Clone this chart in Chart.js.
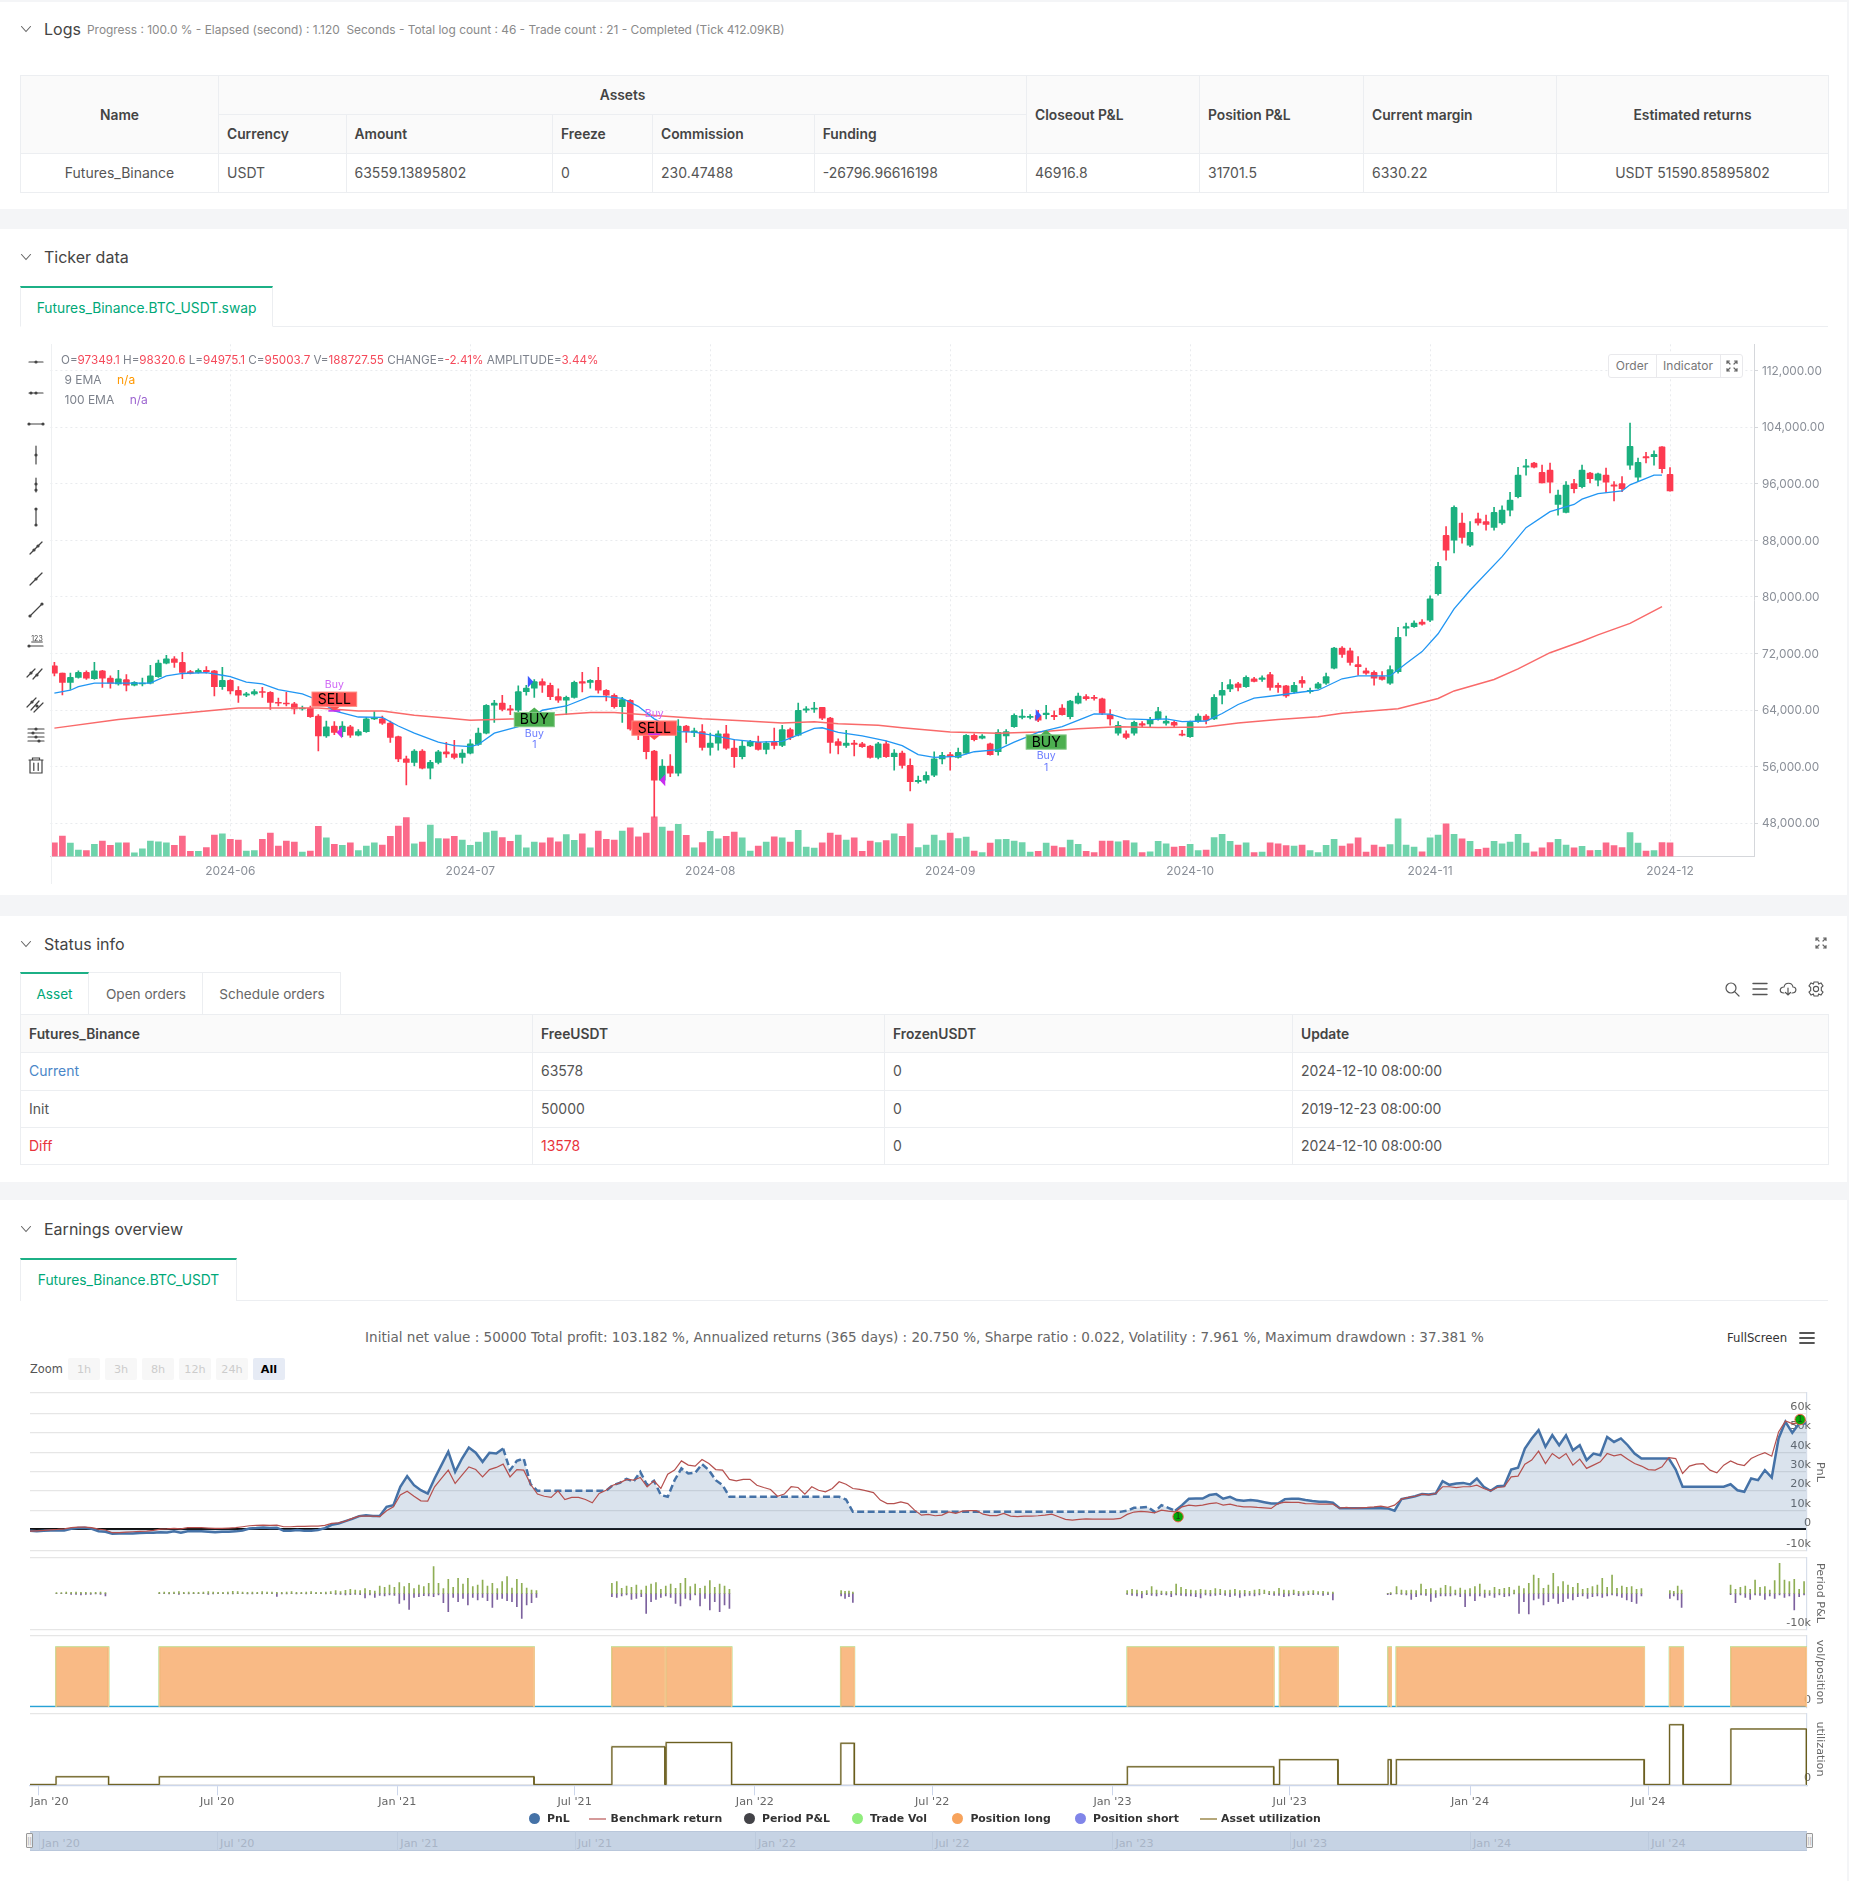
<!DOCTYPE html>
<html><head><meta charset="utf-8">
<script src="https://cdn.jsdelivr.net/npm/chart.js@4"></script>
<style>
html,body{margin:0;padding:0;background:#f4f5f7}
body{width:1849px;height:1881px;position:relative;overflow:hidden;font-family:Inter,"Noto Sans",sans-serif;color:#333}
.panel{position:absolute;left:0;width:1847px;background:#fff}
.t{position:absolute;white-space:pre;line-height:1}
canvas{position:absolute;display:block}
table{position:absolute;border-collapse:collapse;table-layout:fixed;font-size:14px;color:#555}
th,td{border:1px solid #eceef1;padding:0 8px;box-sizing:border-box;text-align:left;font-weight:400;overflow:hidden;white-space:nowrap}
td{padding-bottom:2px}
th{background:#fafafa;font-weight:600;color:#444;font-size:13.8px}
.c{text-align:center}
svg{position:absolute;overflow:visible}
.box{position:absolute;box-sizing:border-box}
</style></head><body>
<div class="panel" style="top:2px;height:207px"></div>
<div class="panel" style="top:229px;height:666px"></div>
<div class="panel" style="top:916px;height:266px"></div>
<div class="panel" style="top:1200px;height:681px"></div>

<table style="left:20px;top:75px;width:1808px">
<colgroup><col style="width:198px"><col style="width:127.5px"><col style="width:206.5px"><col style="width:100px"><col style="width:161.7px"><col style="width:212.3px"><col style="width:173px"><col style="width:164px"><col style="width:193px"><col style="width:272px"></colgroup>
<tr style="height:39px"><th rowspan="2" class="c">Name</th><th colspan="5" class="c">Assets</th><th rowspan="2">Closeout P&amp;L</th><th rowspan="2">Position P&amp;L</th><th rowspan="2">Current margin</th><th rowspan="2" class="c">Estimated returns</th></tr>
<tr style="height:39px"><th>Currency</th><th>Amount</th><th>Freeze</th><th>Commission</th><th>Funding</th></tr>
<tr style="height:39px"><td class="c">Futures_Binance</td><td>USDT</td><td>63559.13895802</td><td>0</td><td>230.47488</td><td>-26796.96616198</td><td>46916.8</td><td>31701.5</td><td>6330.22</td><td class="c">USDT 51590.85895802</td></tr>
</table>

<table style="left:20px;top:1014px;width:1808px">
<colgroup><col style="width:512px"><col style="width:352px"><col style="width:408px"><col style="width:536px"></colgroup>
<tr style="height:38px"><th>Futures_Binance</th><th>FreeUSDT</th><th>FrozenUSDT</th><th>Update</th></tr>
<tr style="height:38px"><td style="color:#4a86c8">Current</td><td>63578</td><td>0</td><td>2024-12-10 08:00:00</td></tr>
<tr style="height:37px"><td>Init</td><td>50000</td><td>0</td><td>2019-12-23 08:00:00</td></tr>
<tr style="height:37px"><td style="color:#e8333c">Diff</td><td style="color:#e8333c">13578</td><td>0</td><td>2024-12-10 08:00:00</td></tr>
</table>

<canvas id="price" width="1778" height="545" style="left:50px;top:340px;width:1778px;height:545px"></canvas>
<canvas id="pane1" width="1790" height="163" style="left:30px;top:1390px;width:1790px;height:163px"></canvas>
<canvas id="pane2" width="1790" height="77" style="left:30px;top:1555px;width:1790px;height:77px"></canvas>
<canvas id="pane3" width="1790" height="77" style="left:30px;top:1633px;width:1790px;height:77px"></canvas>
<canvas id="pane4" width="1820" height="102" style="left:0px;top:1711px;width:1820px;height:102px"></canvas>

<script>
// ---------- candlestick data (daily candles) ----------
const opens=[70250,69230,67920,68630,69340,68430,69540,68530,67720,68330,67520,67720,67820,68730,70650,71260,70750,69440,69340,69640,
69540,67310,68220,66810,66100,66300,66610,66510,65090,64990,64890,64180,64280,63170,60340,61750,60950,61650,60440,60950,
62760,62760,62160,60240,57100,56600,58210,55790,56600,58110,57810,57310,57910,59130,60740,64690,64990,64180,63980,66610,
67110,68020,67520,65900,65390,65800,68020,67920,68220,66810,66100,64480,65390,61350,60740,58210,54070,56090,55080,61750,
60840,60950,58720,59330,60640,58620,57410,58920,59430,58420,59430,59020,61250,60440,63980,64130,64380,62870,59530,59020,
59330,59230,58920,57310,59230,57410,57910,56190,53870,54070,54780,57100,57710,57310,57910,60440,60030,59230,58110,60340,
61650,62970,62970,63270,63370,63270,64280,63070,64990,65900,65800,65600,63370,60740,60640,60740,62110,62060,62760,62160,
62260,60590,60240,62460,63170,62760,66100,67010,67720,67310,68430,68330,69030,67520,67420,66610,68220,66610,67110,67820,
69940,72770,72370,70450,69540,69340,68730,67820,69440,75600,75810,76460,76720,80460,88740,88030,90470,87330,91070,90670,
89860,90470,92290,94210,98350,98960,97640,97950,93090,91980,96030,95620,97540,96530,97240,95870,96030,98660,96940,99870,
99870,101230,97349.1];
const highs=[70750,69230,69230,69540,69540,70750,69640,68830,69640,69030,68020,68530,70350,71060,71760,71560,72170,69640,69840,70150,
69640,70040,68330,67310,66510,66910,67210,66610,65700,66510,65090,64580,64580,63370,62460,62360,62360,61860,61250,62970,
63780,63170,62460,60340,57510,58420,58420,56900,58320,59430,59730,58420,59830,61450,64790,65390,66100,64690,67420,67520,
68330,68430,67820,67010,66000,68120,69340,68330,70040,66910,66300,65800,65490,61550,60950,58320,57000,57710,62660,61860,
61450,61960,60740,61050,61860,59830,59730,59730,60340,59530,61450,61860,61450,64990,64480,65090,64380,62970,59930,61150,
59730,59430,59020,59430,59630,58420,58210,57100,54680,55280,58110,58010,58010,58620,60540,60640,60540,59330,61250,61250,
63470,64080,63370,63980,64690,63880,64790,65390,66400,66200,66100,65700,64080,62360,61050,62460,62360,62970,64380,63170,
62460,61150,62460,63470,63370,66200,67920,68330,67920,68830,68630,68830,69340,67820,67520,67920,68730,67110,67920,69230,
72870,72980,72770,71560,69940,69540,69440,70250,75710,76310,76620,76820,80150,84910,89960,92890,91880,90670,91880,91580,
92690,92890,94810,98350,99460,99060,98660,98960,95120,96330,96630,98660,97640,97540,98250,96330,97040,104620,99670,100470,
100680,101280,98320.6];
const lows=[68830,66150,66910,68530,68330,68330,67210,67110,67520,66710,67420,67420,67720,68630,70550,70040,68430,69130,69230,69230,
66000,66910,66300,65090,65900,66100,65800,64080,64580,64580,63470,63980,62970,58210,60140,60540,60240,60140,60340,60840,
62660,61960,59430,56700,53410,56090,55690,54270,56400,57310,57100,56500,57810,59020,60640,62260,63880,63370,63780,66100,
65800,66510,65490,65090,63370,65700,66560,67110,66400,65290,64280,62260,61150,59830,57100,48860,53920,54580,54680,59430,
60240,58320,57610,58320,58420,55890,57100,58820,58320,57810,58520,58820,59830,60340,63670,63670,62660,57910,57810,58720,
57510,58720,57200,57100,57310,55490,55790,52550,53670,53670,54580,56400,55490,57200,57810,59630,59930,57610,57610,59230,
61550,62760,62760,62360,62760,62660,63270,62760,64890,65390,65390,63370,61860,60440,59930,60440,61650,61650,62560,61860,
61550,60340,60140,62260,62060,62660,64890,66610,66710,67210,67970,68070,66810,66510,65800,66400,67210,66400,67010,67620,
69840,71460,70350,68930,69030,67520,68220,67620,69230,74490,75710,76010,76510,80250,85210,86220,87630,87130,90160,89450,
89450,90260,91480,94000,97240,98250,96130,94710,91580,91880,94710,95420,96130,95720,94810,93600,94910,98050,96330,98960,
98660,97540,94975.1];
const closes=[69230,67920,68630,69340,68530,69540,68530,67820,68430,67520,67920,67820,68830,70650,71260,70750,69340,69230,69640,69440,
67310,68220,66710,66100,66300,66610,66510,65090,64990,64890,64180,64280,63070,60340,61650,60840,61750,60440,60950,62760,
62870,62160,60140,57100,56600,58210,55790,56600,58110,57810,57310,57910,59230,60740,64690,64990,64080,63980,66610,67110,
68020,67520,65900,65390,65800,67920,67820,68220,66810,66100,64480,65490,61350,60740,58110,54070,56090,55080,61750,60950,
61050,58720,59330,60640,58620,57410,58920,59530,58420,59330,59020,61250,60140,63980,64180,64280,62870,59430,59020,59330,
59130,58820,57310,59230,57410,57910,56190,53870,54070,54780,57100,57610,57410,58010,60440,59830,60340,57710,60840,60950,
63270,63170,63120,62560,63570,63070,63370,65290,66000,65600,65650,63570,62760,61860,60140,62260,61860,62660,63780,62460,
61860,60440,62260,63170,62560,65800,66810,67620,67210,68630,68070,68580,67210,67210,66000,67520,67820,66810,67720,68730,
72770,71860,70750,70150,69230,68530,68330,69740,74290,75810,76310,76160,79750,84350,86620,92690,88440,89150,90470,90260,
91980,92290,93700,97240,98550,98350,96130,96230,94410,95820,95320,97950,96730,97440,96230,95670,95320,101330,99060,99670,
100170,98150,95003.7];
const volumes=[190,285,185,90,80,170,215,155,190,190,50,105,215,205,190,155,285,70,70,125,300,315,240,230,75,80,240,325,145,215,200,60,75,420,260,170,155,190,80,145,
190,160,280,425,545,175,200,440,250,245,280,230,155,200,335,355,265,210,300,120,200,190,260,205,305,225,315,120,355,240,230,
355,400,275,325,555,410,355,450,295,120,195,350,245,280,340,260,75,145,200,275,260,200,365,130,115,190,325,300,230,260,70,215,195,220,315,280,455,125,160,300,220,325,250,270,75,55,185,235,240,215,195,60,70,185,145,125,230,170,70,55,215,215,205,220,190,55,65,210,175,130,140,170,80,90,265,310,210,160,
190,55,60,190,175,150,145,160,80,55,155,240,145,175,260,60,160,130,165,525,160,130,65,260,300,455,310,245,210,100,115,210,175,200,310,185,65,120,195,240,160,120,140,80,85,190,150,125,335,185,75,80,195,188.7];
const ema9Idx=[0,2,3,5,8,12,14,16,19,21,22,24,26,28,31,33,35,38,41,43,45,48,50,52,53,55,58,61,64,67,69,71,73,75,78,80,82,85,88,91,93,95,96,98,101,104,106,108,110,113,115,118,120,123,126,129,130,132,134,137,139,141,144,146,148,150,153,156,158,161,163,167,169,171,173,175,177,181,184,187,190,191,193,196,197,200,201];
const ema9Val=[66400,66810,67310,67820,67820,67820,68830,69180,69290,68930,68730,67970,67720,66910,66300,65390,63880,63020,62970,61750,60740,59480,58970,58820,59130,60740,61650,63980,64580,65950,65900,65650,64530,62760,60950,60890,60490,59830,59480,59580,60490,61400,61500,60840,60340,59630,58970,57710,57310,57460,58110,58420,59480,60840,61650,63020,63470,63420,62760,62660,62760,62360,62460,63520,64790,65700,66100,66560,66810,68430,68830,68830,70600,72270,74800,78330,80960,85710,89810,92080,93090,93850,94610,95010,95870,97240,97240];
const ema100Idx=[0,8,18,23,28,33,38,41,45,49,52,58,62,67,70,76,81,86,91,95,98,103,106,112,118,123,128,133,138,144,148,153,158,161,168,173,175,180,183,187,191,193,197,201];
const ema100Val=[61450,62660,63780,64280,64280,64280,63880,63880,63270,62870,62560,62760,63270,63670,63670,63170,62760,62510,62160,62360,62060,61860,61500,60890,60740,60890,61350,61650,61550,61600,62160,62660,63070,63570,64180,65650,66710,68330,69840,72120,73730,74640,76260,78640];
const priceTicks=[48000,56000,64000,72000,80000,88000,96000,104000,112000];
const dateTickIdx=[22,52,82,112,142,172,202];
const dateTickLabels=['2024-06','2024-07','2024-08','2024-09','2024-10','2024-11','2024-12'];
const sellIdx=[35,75], sellPrice=[65540,61450], sellDashPrice=[64000,60700];
const sellArrowIdx=[35.6,76], sellArrowPrice=[60840,54070];
const buyIdx=[60,124], buyPrice=[62660,59480];
const buyArrowIdx=[59.5,123], buyArrowPrice=[68020,63270];

// ---------- earnings overview data (weekly reading, thousands of USDT) ----------
const pnlK=[-0.7,-0.9,-0.7,-0.5,-0.5,-0.5,0.3,0.7,0.9,0.3,-0.9,-1.2,-2.2,-2.1,-2.1,-2.1,-1.9,-1.7,-1.7,-1.4,-1.6,-1.0,-1.7,-1.0,-1.0,-1.0,-1.2,-1.4,-1.2,-1.2,-1.0,-0.5,0.5,0.7,1.0,0.7,0.9,-0.7,-0.7,-0.3,-0.7,-0.7,-0.3,0.7,2.4,3.1,4.3,5.5,6.9,7.4,6.9,6.9,11.7,12.6,22.1,27.6,22.9,20.3,18.6,26.4,33.3,40.2,29.8,36.7,42.4,39.7,35.0,39.7,39.3,41.9,30.7,35.5,36.7,23.4,
20,20,20,20,20,20,20,20,20,20,20,22.9,24.1,26.2,24.7,29.8,22.9,25.2,17.8,16.9,25.5,31.6,29.0,29.3,33.8,30.7,25.5,22.9,
16.9,16.9,16.9,16.9,16.9,16.9,16.9,16.9,16.9,16.9,16.9,16.9,16.9,16.9,16.9,16.9,16.9,15.5,
9.1,9.1,9.1,9.1,9.1,9.1,9.1,9.1,9.1,9.1,9.1,9.1,9.1,9.1,9.1,9.1,9.1,9.1,9.1,9.1,9.1,9.1,9.1,9.1,9.1,9.1,9.1,9.1,9.1,9.1,9.1,9.1,9.1,9.1,9.1,9.1,9.1,9.1,9.1,9.1,
9.7,11.2,11.4,11.7,9.1,12.6,11.2,9.7,12.6,15.9,16.0,16.0,17.8,18.3,15.9,16.9,15.2,14.8,15.2,14.8,14.1,13.4,13.4,15.7,15.9,15.9,15.2,14.7,14.3,14.3,13.8,11.0,11.0,11.0,11.0,11.0,11.0,11.0,10.9,9.7,15.7,16.4,17.2,18.3,18.1,18.6,25.0,23.1,23.8,24.1,23.3,26.4,22.1,20.0,22.4,22.6,31.0,31.9,41.9,
47.1,51.4,42.8,48.8,43.6,48.8,41.0,43.6,35.9,39.3,38.4,47.9,45.3,47.1,43.6,39.3,36.7,36.7,36.7,36.7,36.7,31.0,22.1,22.1,22.1,22.1,22.1,22.1,22.1,23.4,20.3,19.5,26.4,25.5,30.7,26.9,47.1,55.7,50.0,54.8,54.8];
const benchK=[-0.9,-0.7,-0.5,-0.2,0,0.3,0.9,1.2,1.2,0.9,0.2,-0.3,-1.7,-1.6,-1.4,-1.2,-1.0,-0.9,-0.5,0.2,0.3,0.5,0.3,0.9,0.9,0.9,0.7,0.5,0.5,0.7,0.9,1.4,1.9,2.1,2.2,2.1,2.2,1.4,1.4,1.6,1.6,1.7,1.7,2.1,3.1,3.4,4.3,5.7,6.9,6.9,6.9,6.6,9.7,11.7,17.8,19.8,17.2,14.8,14.7,22.1,26.4,30.7,23.8,28.1,32.4,31.0,27.2,31.0,32.1,33.8,27.2,31.0,30.7,
23.4,18.3,17.2,16.6,20.0,15.5,16.6,16.6,15.5,13.8,18.6,20.3,22.9,24.1,25.9,25.5,26.9,22.1,25.2,21.2,28.6,30.7,35.5,33.3,32.8,36.2,34.1,31.0,30.7,25.9,25.2,25.9,25.9,22.9,21.7,20.7,17.2,18.3,22.1,21.7,18.3,22.1,20.3,19.5,21.2,24.7,23.4,21.2,20.7,20.0,19.1,15.2,13.4,13.4,14.3,13.4,10.0,7.4,7.8,7.1,7.4,9.1,8.3,9.5,9.7,9.7,7.9,7.2,7.2,8.3,6.9,6.6,6.9,
6.9,7.1,7.4,7.9,6.6,5.2,4.8,5.2,5.5,5.3,5.3,5.3,5.3,5.7,7.8,9.0,9.3,9.1,8.6,10.0,9.5,9.1,11.7,12.6,12.2,12.6,13.4,13.8,12.6,13.1,12.2,11.7,11.7,11.4,11.2,10.9,13.4,14.1,14.0,14.0,13.4,13.3,13.1,13.1,13.1,11.0,11.4,10.9,11.2,11.4,11.7,12.1,11.4,12.6,15.7,16.6,17.2,18.3,17.9,18.6,22.1,22.1,21.7,22.1,22.1,22.9,21.2,20.0,21.7,22.1,27.2,27.6,33.8,
35.9,40.5,34.1,39.3,36.7,39.3,33.3,36.4,31.6,33.3,35.0,39.3,38.1,38.8,36.4,34.1,32.8,31.0,30.7,32.4,37.2,36.7,29.0,32.8,33.8,34.1,30.7,29.3,33.3,35.5,33.8,33.1,36.7,38.4,39.7,37.9,50.5,56.2,54.8,55.2,56.6];
const weekStep=7;
const dashedFrom=477, dashedTo=1174;
const tradeMarkDays=[1172,1807], tradeMarkK=[6.6,56.9];
const pnlTicks=[-10.8,0,10,20,30,40,50,60,71];
const pnlTickLabels=['-10k','0','10k','20k','30k','40k','50k','60k',''];
// period P&L, one run per holding block: first day, step in days, gains and losses (about 100 USDT per unit)
const periodStart=[27,132,594,828,1120,1386,1395,1674,1736];
const periodStep=[5,5,5,4,5,3,5,4,5];
const periodGain=[
[2,2,4,3,4,3,3,2,3,4,2],
[3,4,3,4,5,3,4,3,3,4,5,4,3,3,4,6,5,4,3,4,3,5,4,4,3,3,4,5,3,3,4,5,3,3,4,5,8,5,9,12,10,8,14,9,7,22,18,25,18,32,20,30,14,25,20,30,80,30,14,42,18,45,28,45,20,25,40,22,30,14,35,50,16,42,30,16,10,8],
[30,35,15,22,18,25,10,22,28,32,12,22,28,15,30,45,20,28,15,22,38,18,28,22,12],
[8,6,7,4],
[8,12,10,6,8,20,10,7,5,6,28,18,12,10,8,12,10,9,14,12,8,10,12,8,9,6,10,12,10,6,5,15,10,8,10,6,5,7,8,5,6,4,4],
[0,2],
[20,10,8,10,8,28,12,14,8,16,24,20,10,16,10,14,20,28,10,8,18,12,15,18,10,22,14,30,55,45,15,25,60,20,35,25,18,30,12,15,20,25,45,18,55,15,22,18,20,12,14],
[8,6,22,10],
[25,12,18,22,12,40,18,20,10,38,90,40,35,42,12,35]];
const periodLoss=[
[1,1,1,3,3,5,3,3,2,3,8],
[1,1,2,1,3,1,2,1,1,1,3,2,1,1,2,2,1,1,2,2,1,2,1,1,9,2,2,1,2,1,2,1,1,1,2,1,3,3,5,4,3,4,14,5,12,6,8,5,6,30,20,48,12,10,7,8,10,5,28,55,12,25,15,35,12,20,12,22,42,18,15,22,25,40,75,35,28,12],
[10,12,8,5,18,15,10,60,25,18,12,8,12,30,38,15,20,5,38,15,50,25,55,35,45],
[8,15,10,27],
[3,6,8,14,4,6,8,4,5,10,5,6,8,8,10,14,5,8,6,4,6,10,6,12,8,6,8,5,0,4,6,6,10,8,4,7,6,4,4,3,6,4,20],
[4,4],
[2,3,5,18,10,5,6,24,12,8,8,8,5,10,40,8,22,8,12,6,12,5,10,8,2,60,25,62,20,15,35,25,15,30,25,15,20,10,8,15,10,8,12,8,5,8,12,20,25,30,8],
[15,8,20,42],
[4,28,5,12,18,5,6,18,8,15,5,12,8,50,10,5]];
const blockStart=[26.6,132,594,649.4,827.7,1120.2,1275.6,1386.4,1394.8,1673.7,1736.3];
const blockEnd=[80.2,514.5,648.2,716.2,841.5,1269.6,1335.2,1389.4,1647.8,1687.6,1813.4];
const blockUtil=[0.11,0.11,0.53,0.59,0.58,0.25,0.35,0.35,0.35,0.84,0.78];
const axisDays=[9,191,375,556,740,921,1105,1286,1470,1652];
const axisLabels=["Jan '20","Jul '20","Jan '21","Jul '21","Jan '22","Jul '22","Jan '23","Jul '23","Jan '24","Jul '24"];
const totalDays=1814;

// ---------- page text helpers ----------
function T(x,y,s,css,center){const e=document.createElement('div');e.className='t';e.textContent=s;
 e.style.cssText=`left:${x}px;top:${y}px;transform:translate(${center?'-50%':'0'},-50%);`+(css||'');document.body.appendChild(e);return e}
function B(x,y,w,h,css){const e=document.createElement('div');e.className='box';e.style.cssText=`left:${x}px;top:${y}px;width:${w}px;height:${h}px;`+(css||'');document.body.appendChild(e);return e}
function S(x,y,body,stroke,w){const n='http://www.w3.org/2000/svg';const s=document.createElementNS(n,'svg');s.setAttribute('width','2');s.setAttribute('height','2');s.style.left=x+'px';s.style.top=y+'px';
 s.innerHTML=`<g fill="none" stroke="${stroke||'#444'}" stroke-width="${w||1.2}" stroke-linecap="round">${body}</g>`;document.body.appendChild(s)}
const chev=y=>S(26,y,'<path d="M-4.5 -2.5L0 2.5L4.5 -2.5"/>','#666',1.1);
[[30,'Logs'],[258,'Ticker data'],[945,'Status info'],[1230,'Earnings overview']].forEach(([y,s])=>{chev(y-1);T(44,y-1,s,'font-size:16px;color:#444')});
T(87,30,'Progress : 100.0 % - Elapsed (second) : 1.120  Seconds - Total log count : 46 - Trade count : 21 - Completed (Tick 412.09KB)','font-size:11.92px;color:#8a8a8a');
// ticker tab
B(20,286,253,41,'border-top:2px solid #1cb086;border-left:1px solid #eceef1;border-right:1px solid #eceef1;border-bottom:1px solid #fff');
B(273,326,1555,1,'background:#eceef1');
T(146.5,309,'Futures_Binance.BTC_USDT.swap','font-size:13.8px;color:#00a878',true);
// price legend
const hdr=[['O=','97349.1'],['H=','98320.6'],['L=','94975.1'],['C=','95003.7'],['V=','188727.55'],['CHANGE=','-2.41%'],['AMPLITUDE=','3.44%']];
const hl=T(61,361,'','font-size:11.65px;color:#7d828c');hdr.forEach(([a,b],i)=>{hl.append(a);const s=document.createElement('span');s.style.color='#f5495a';s.textContent=b;hl.append(s);if(i<hdr.length-1)hl.append(' ')});
T(64.5,380,'9 EMA','font-size:12px;color:#7d828c');T(117,380,'n/a','font-size:12px;color:#ff9800');
T(64.5,400,'100 EMA','font-size:12px;color:#7d828c');T(129.7,400,'n/a','font-size:12px;color:#9c64d0');
B(1608,354,135,24,'border:1px solid #e9e9ec;border-radius:3px;background:#fff');B(1655.5,354,1,24,'background:#e9e9ec');B(1720,354,1,24,'background:#e9e9ec');
T(1632,366,'Order','font-size:12px;color:#777',true);T(1688,366,'Indicator','font-size:12px;color:#777',true);
const fsIcon=(x,y)=>S(x,y,'<path d="M-5 -5L-2 -2M5 -5L2 -2M-5 5L-2 2M5 5L2 2M-5 -5h2.5M-5 -5v2.5M5 -5h-2.5M5 -5v2.5M-5 5h2.5M-5 5v-2.5M5 5h-2.5M5 5v-2.5"/>','#666',1.2);
fsIcon(1732,366);fsIcon(1820.7,943);
// drawing tool icons
const dot=(x,y)=>`<circle cx="${x}" cy="${y}" r="1.6" fill="#444" stroke="none"/>`;
const tools=[
['M-7 0H7',[[0,0]]],['M-7 0H7',[[-5,0],[0,0]]],['M-7 0H7',[[-7,0],[7,0]]],
['M0 -9V9',[[0,0]]],['M0 -7V7',[[0,-1],[0,5]]],['M0 -8V8',[[0,-8],[0,8]]],
['M-6 6L6 -6',[[-2,2],[2,-2]]],['M-6 6L6 -6',[[0,0]]],['M-6 6L6 -6',[[-6,6],[6,-6]]],
['M-7 4H7',[[-7,4]]],['M-9 5L-1 -3M-3 7L6 -3',[[-5,1],[1,3]]],['M-9 4L0 -5M-5 7L3 -2M-2 9L7 0',[[-4,-1],[1,3]]],
['M-8 -6H8M-8 -2H8M-8 2H8M-8 6H8',[[0,-6],[-3,-2],[0,2],[3,6]]]];
const toolY=[362,393,424,455,485,517,548,579,610,642,672,703,735];
tools.forEach((t,i)=>S(36,toolY[i],`<path d="${t[0]}"/>`+t[1].map(p=>dot(p[0],p[1])).join('')));
T(37,637.5,'123','font-size:7px;color:#444;text-decoration:underline',true);
S(36,765,'<path d="M-7 -5H7M-3.5 -5V-7H3.5V-5M-6 -5V8H6V-5M-2.2 -2V5.5M2.2 -2V5.5"/>','#444',1.2);
B(51,344,1,540,'background:#eef0f2');
// status tabs
B(20,972,69,42,'border-top:2px solid #1cb086;border-left:1px solid #eceef1;border-right:1px solid #eceef1');
B(89,972,114,42,'border-top:1px solid #eceef1;border-right:1px solid #eceef1');
B(203,972,138,42,'border-top:1px solid #eceef1;border-right:1px solid #eceef1');
T(54.5,995,'Asset','font-size:13.6px;color:#00a878',true);T(146,995,'Open orders','font-size:13.6px;color:#666',true);T(272,995,'Schedule orders','font-size:13.6px;color:#666',true);
S(1732,989,'<circle cx="-1" cy="-1" r="5"/><path d="M2.6 2.6L7 7"/>','#555',1.2);
S(1760,989,'<path d="M-7 -5.5H7M-7 0H7M-7 5.5H7"/>','#555',1.4);
S(1788,989,'<path d="M-4 4C-9 4 -9 -2 -4 -2C-3 -7 4 -7 5 -2C9 -2 9 4 4 4M0 -1V6M-2.5 3.5L0 6L2.5 3.5"/>','#555',1.2);
S(1816,989,'<circle r="2.6"/><path d="M-2 -7H2L2.6 -5L5 -6L7 -3L5.3 -1.5V1.5L7 3L5 6L2.6 5L2 7H-2L-2.6 5L-5 6L-7 3L-5.3 1.5V-1.5L-7 -3L-5 -6L-2.6 -5Z"/>','#555',1.1);
// earnings tab + header
B(20,1258,217,43,'border-top:2px solid #1cb086;border-left:1px solid #eceef1;border-right:1px solid #eceef1');
B(237,1300,1591,1,'background:#eceef1');
T(128.5,1281,'Futures_Binance.BTC_USDT','font-size:13.8px;color:#00a878',true);
const hf='font-family:"DejaVu Sans";';
T(924.5,1338,'Initial net value : 50000 Total profit: 103.182 %, Annualized returns (365 days) : 20.750 %, Sharpe ratio : 0.022, Volatility : 7.961 %, Maximum drawdown : 37.381 %',hf+'font-size:13.55px;color:#666',true);
T(1757,1339,'FullScreen',hf+'font-size:11.7px;color:#333',true);
S(1807,1338,'<path d="M-7 -5H7M-7 0H7M-7 5H7"/>','#555',1.8);
T(30,1370,'Zoom',hf+'font-size:11.4px;color:#555');
[['1h',68],['3h',105],['8h',142],['12h',179],['24h',216],['All',253]].forEach(([s,x],i)=>{const on=s==='All';
 B(x,1358,32,22,`border-radius:2px;background:${on?'#e6ebf5':'#f7f7f7'}`);T(x+16,1369.5,s,hf+`font-size:11.2px;color:${on?'#000':'#ccc'};${on?'font-weight:700':''}`,true)});
// legend
const lg=hf+'font-size:10.9px;font-weight:700;color:#333';
[[534,'#4572a7'],[749,'#434348'],[857,'#90ed7d'],[957.4,'#f7a35c'],[1080,'#8085e9']].forEach(([x,c])=>B(x-5.5,1813,11,11,`border-radius:50%;background:${c}`));
B(589,1817.5,16.5,2,'background:#d59a9a');B(1200,1817.5,16.5,2,'background:#b5a77a');
[[547,'PnL'],[610.6,'Benchmark return'],[762,'Period P&L'],[870,'Trade Vol'],[970.4,'Position long'],[1093,'Position short'],[1221,'Asset utilization']].forEach(([x,s])=>T(x,1818.5,s,lg));
// navigator
B(29.5,1831,1777.5,20,'background:#c6d3e4;border-top:1px solid #b9c7db;border-bottom:1px solid #b9c7db');
axisDays.forEach((d,i)=>{const x=30+d*1777/totalDays;B(x,1831,1,20,'background:#bccadd');T(x+3,1844,axisLabels[i],hf+'font-size:11.2px;color:#a8b4c6')});
[26,1806].forEach(x=>{B(x,1833,7,15,'background:#f2f2f2;border:1px solid #999;border-radius:1px');T(x+3.5,1840.5,'||','font-size:7px;color:#999',true)});
[['PnL',1471.7],['Period P&L',1593],['vol/position',1671.7],['utilization',1749]].forEach(([s,y])=>{T(1820.6,y,s,hf+'font-size:11.2px;color:#666;writing-mode:vertical-rl',true)});

// ---------- price chart ----------
const nCandles=opens.length, extraSlots=10;
const slotLabels=Array.from({length:nCandles+extraSlots},(_,i)=>String(i));
const up=i=>closes[i]>=opens[i];
const GREEN='#1bb07f',RED='#fd3a50',VGREEN='#6fd3ab',VRED='#fb6a8a';
const sparse=(idx,val)=>{const a=Array(nCandles).fill(null);idx.forEach((k,j)=>a[k]=val[j]);return a};
const zeroPad=s=>{s.paddingLeft=s.paddingRight=s.paddingTop=s.paddingBottom=0};
const tickMap=Object.fromEntries(dateTickIdx.map((k,i)=>[k,dateTickLabels[i]]));
const markers={id:'markers',afterDatasetsDraw(c){const x=c.scales.x,y=c.scales.y,g=c.ctx;g.save();
 const px=i=>x.getPixelForValue(i),py=v=>y.getPixelForValue(v);
 const tag=(cx,cy,w,h,fill,edge,txt)=>{g.fillStyle=fill;g.strokeStyle=edge;g.lineWidth=1;g.fillRect(cx-w/2,cy-h/2,w,h);g.strokeRect(cx-w/2,cy-h/2,w,h);
  g.fillStyle='#000';g.font='14px Inter';g.textAlign='center';g.textBaseline='middle';g.fillText(txt,cx,cy+.5)};
 const small=(s,cx,cy,col)=>{g.fillStyle=col;g.font='10.5px Inter';g.textAlign='center';g.textBaseline='middle';g.fillText(s,cx,cy)};
 const tri=(p,col)=>{g.fillStyle=col;g.beginPath();p.forEach((q,k)=>k?g.lineTo(q[0],q[1]):g.moveTo(q[0],q[1]));g.closePath();g.fill()};
 sellIdx.forEach((k,j)=>{const cx=px(k),cy=py(sellPrice[j]);
  tri([[cx-6,cy+7],[cx+6,cy+7],[cx,cy+12]],'#ff5252');tag(cx,cy,44.7,14.3,'#ff5252','#ff8a80','SELL');
  small('Buy',cx,cy-14.5,'#cf66f5');
  g.fillStyle='#c82cf0';g.fillRect(cx-6,py(sellDashPrice[j]),12,1.6);
  const ax=px(sellArrowIdx[j]),ay=py(sellArrowPrice[j]);tri([[ax-2.5,ay],[ax+3,ay-6],[ax+3,ay+6]],'#c82cf0')});
 buyIdx.forEach((k,j)=>{const cx=px(k),cy=py(buyPrice[j]);
  tri([[cx-6,cy-7],[cx+6,cy-7],[cx,cy-12]],'#4caf50');tag(cx,cy,40,14.3,'#4caf50','#81c784','BUY');
  small('Buy',cx,cy+14,'#6b7cff');small('1',cx,cy+25.5,'#6b7cff');
  const ax=px(buyArrowIdx[j]),ay=py(buyArrowPrice[j]);tri([[ax+3,ay],[ax-2.5,ay-6],[ax-2.5,ay+6]],'#3d5afe')});
 g.restore()}};
new Chart(document.getElementById('price'),{type:'bar',plugins:[markers],data:{labels:slotLabels,datasets:[
 {type:'line',data:sparse(ema9Idx,ema9Val),borderColor:'#2196f3',borderWidth:1.3,pointRadius:0,spanGaps:true,order:0,yAxisID:'y'},
 {type:'line',data:sparse(ema100Idx,ema100Val),borderColor:'#f96a6a',borderWidth:1.5,pointRadius:0,spanGaps:true,order:0,yAxisID:'y'},
 {data:opens.map((o,i)=>[o,closes[i]]),backgroundColor:opens.map((_,i)=>up(i)?GREEN:RED),barThickness:6,grouped:false,order:1,yAxisID:'y',borderRadius:1},
 {data:lows.map((l,i)=>[l,highs[i]]),backgroundColor:opens.map((_,i)=>up(i)?GREEN:RED),barThickness:1,grouped:false,order:2,yAxisID:'y'},
 {data:volumes,backgroundColor:opens.map((_,i)=>up(i)?VGREEN:VRED),barThickness:6,grouped:false,order:3,yAxisID:'v'}
]},options:{responsive:false,animation:false,events:[],layout:{autoPadding:false,padding:{left:0.4,top:4.3,right:0,bottom:0}},
 plugins:{legend:{display:false},tooltip:{enabled:false}},
 scales:{
  x:{type:'category',offset:true,grid:{offset:false,color:'#e9ebee',drawTicks:false,lineWidth:1},border:{color:'#d5d7db',dash:[2,3]},
   afterBuildTicks:s=>{s.ticks=dateTickIdx.map(v=>({value:v}))},afterFit:s=>{s.height=28.6;zeroPad(s)},
   ticks:{autoSkip:false,maxRotation:0,padding:8,color:'#8a8f98',font:{family:'Inter',size:12},callback:v=>tickMap[v]||''}},
  y:{position:'right',min:43302,max:115750,grid:{color:'#e9ebee',tickLength:4,tickColor:'#d5d7db',tickBorderDash:[]},border:{color:'#d5d7db',dash:[2,3]},
   afterBuildTicks:s=>{s.ticks=priceTicks.map(v=>({value:v}))},afterFit:s=>{s.width=74;zeroPad(s)},
   ticks:{padding:4,labelOffset:0.5,color:'#8a8f98',font:{family:'Inter',size:11.8},callback:v=>v.toLocaleString('en-US',{minimumFractionDigits:2})}},
  v:{display:false,min:0,max:7170}
 }}});

// ---------- earnings panes ----------
const xDays={type:'linear',min:0,max:totalDays,display:false,offset:false,grid:{offset:false}};
function pane(id,top,bottom,datasets,yMin,yMax,ticks,labels,yOpts,xOpts,plugins,left){
 return new Chart(document.getElementById(id),{type:'line',plugins:plugins||[],data:{datasets},options:{responsive:false,animation:false,events:[],
  layout:{autoPadding:false,padding:{left:left||0,right:0,top,bottom}},plugins:{legend:{display:false},tooltip:{enabled:false}},
  elements:{point:{radius:0},line:{tension:0}},
  scales:{x:xOpts||xDays,y:Object.assign({position:'right',min:yMin,max:yMax,
   grid:{color:'#e6e6e6',lineWidth:1.2,drawTicks:false},border:{display:true,color:'#d8dfeb',width:1.2},
   afterBuildTicks:s=>{s.ticks=ticks.map(v=>({value:v}))},afterFit:s=>{s.width=13;zeroPad(s)},
   ticks:{mirror:true,padding:4,labelOffset:-6.5,color:'#666',font:{family:'DejaVu Sans',size:11.2},callback:v=>labels[ticks.indexOf(v)]}},yOpts||{})}}})}
const weekly=a=>a.map((v,i)=>({x:i*weekStep,y:v}));
const markOne={id:'markOne',afterDatasetsDraw(c){const g=c.ctx;g.save();g.fillStyle='#1b3a1b';g.font='8px "DejaVu Sans"';g.textAlign='center';g.textBaseline='middle';
 tradeMarkDays.forEach((d,i)=>g.fillText('1',c.scales.x.getPixelForValue(d),c.scales.y.getPixelForValue(tradeMarkK[i])));g.restore()}};
pane('pane1',2.3,2.7,[
 {data:tradeMarkDays.map((d,i)=>({x:d,y:tradeMarkK[i]})),showLine:false,pointRadius:5.2,pointBackgroundColor:'#06a806',pointBorderColor:'#f0604a',pointBorderWidth:1,order:0},
 {data:weekly(benchK),borderColor:'#b5504e',borderWidth:1.2,order:1},
 {data:weekly(pnlK),borderColor:'#4572a7',borderWidth:2.5,order:2,
  segment:{borderDash:c=>(c.p0.parsed.x>=dashedFrom&&c.p1.parsed.x<=dashedTo)?[7,3.5]:undefined}},
 {data:weekly(pnlK),borderWidth:0,borderColor:'rgba(0,0,0,0)',fill:'origin',backgroundColor:'rgba(69,114,167,.2)',order:3}
],-10.8,71,pnlTicks,pnlTickLabels,{grid:{color:c=>c.tick&&c.tick.value===0?'#111':'#e6e6e6',lineWidth:c=>c.tick&&c.tick.value===0?2:1.2,drawTicks:false}},null,[markOne]);

const gainPts=[],lossPts=[];
periodStart.forEach((st,b)=>{periodGain[b].forEach((v,k)=>{gainPts.push({x:st+k*periodStep[b],y:v})});periodLoss[b].forEach((v,k)=>{lossPts.push({x:st+k*periodStep[b],y:-v})})});
pane('pane2',2.3,2.7,[
 {type:'bar',data:gainPts,backgroundColor:'#8fae55',barThickness:1,grouped:false},
 {type:'bar',data:lossPts,backgroundColor:'#7c619e',barThickness:1,grouped:false}
],-108,108,[-108,108],['-10k','']);

const edge=[];blockStart.forEach((s,i)=>{edge.push({x:s,y:0},{x:s,y:1},{x:blockEnd[i],y:1},{x:blockEnd[i],y:0},{x:blockEnd[i],y:null})});
pane('pane3',2.3,2.7,[
 {data:edge,borderColor:'#f9c48f',borderWidth:1,fill:'origin',backgroundColor:'rgba(247,163,92,.75)',order:0},
 {data:edge,borderColor:'#a5e58f',borderWidth:1.8,order:1},
 {data:[{x:0,y:0},{x:totalDays,y:0}],borderColor:'#27a2d6',borderWidth:1.8,order:2}
],-0.01,1.2,[0,1.2],['0','']);

const util=[{x:0,y:0}];blockStart.forEach((s,i)=>{util.push({x:s,y:0},{x:s,y:blockUtil[i]},{x:blockEnd[i],y:blockUtil[i]},{x:blockEnd[i],y:0})});
pane('pane4',2.3,0,[
 {data:util,borderColor:'#6a5e1e',borderWidth:1,order:0},
 {data:util,borderColor:'rgba(150,140,95,.55)',borderWidth:2,order:1}
],-0.01,1,[0,1],['0',''],{},{type:'linear',min:0,max:totalDays,offset:false,
 grid:{drawOnChartArea:false,drawTicks:true,tickLength:10,tickColor:'#ccd6eb'},border:{color:'#ccd6eb',width:1.2},
 afterBuildTicks:s=>{s.ticks=axisDays.map(v=>({value:v}))},afterFit:s=>{s.height=27.7;zeroPad(s)},
 ticks:{autoSkip:false,maxRotation:0,padding:0,color:'#666',font:{family:'DejaVu Sans',size:11.2},
  callback:v=>(v===axisDays[0]?'\u00a0'.repeat(6):'')+axisLabels[axisDays.indexOf(v)]}},null,30);
</script>
</body></html>
